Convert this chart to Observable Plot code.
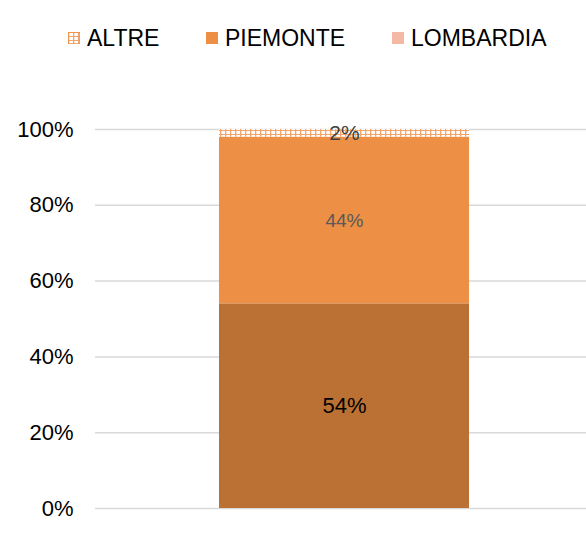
<!DOCTYPE html>
<html>
<head>
<meta charset="utf-8">
<script src="https://cdn.jsdelivr.net/npm/d3@7"></script>
<script src="https://cdn.jsdelivr.net/npm/@observablehq/plot@0.6"></script>
<style>
  html, body { margin: 0; padding: 0; background: #fff; }
  body { width: 586px; height: 535px; overflow: hidden; font-family: "Liberation Sans", Arial, sans-serif; }
  #legend { position: relative; height: 70px; }
  .item { position: absolute; top: 26px; display: flex; align-items: center; font-size: 23px; color: #000; line-height: 24px; }
  .sw { width: 12px; height: 12px; margin-right: 7px; display: inline-block; }
</style>
</head>
<body>
<div id="legend"></div>
<div id="chart"></div>
<script>
const series = ["LOMBARDIA", "PIEMONTE", "ALTRE"];
const values = [54, 44, 2];
const barColors = ["#bb7133", "#ed9045", "url(#altrePattern)"];
const labelColors = ["#000000", "#595959", "#404040"];
const labelSizes = [22, 19, 21];
const legendOrder = ["ALTRE", "PIEMONTE", "LOMBARDIA"];
const legendColors = ["pattern", "#ed9045", "#f4b9a5"];
const legendLeft = [68, 206, 392];
const yTicks = [0, 20, 40, 60, 80, 100];

const data = series.map((s, i) => ({cat: "A", series: s, value: values[i], label: values[i] + "%", i}));

const patternSvg = (id) => `<defs><pattern id="${id}" width="5" height="4" patternUnits="userSpaceOnUse">
  <rect width="5" height="4" fill="#fff"/><rect x="0" y="0" width="1.3" height="4" fill="#f2a469"/><rect x="0" y="0" width="5" height="1" fill="#f2a469"/></pattern></defs>`;

// legend
const legend = document.getElementById("legend");
legendOrder.forEach((name, i) => {
  const item = document.createElement("div");
  item.className = "item";
  item.style.left = legendLeft[i] + "px";
  let sw;
  if (legendColors[i] === "pattern") {
    sw = `<svg class="sw" width="12" height="12" viewBox="0 0 12 12">${patternSvg("legPat")}<rect width="12" height="12" fill="url(#legPat)" stroke="#ed9045" stroke-width="1.5"/></svg>`;
  } else {
    sw = `<span class="sw" style="background:${legendColors[i]}"></span>`;
  }
  item.innerHTML = sw + `<span>${name}</span>`;
  legend.appendChild(item);
});

const plot = Plot.plot({
  width: 586,
  height: 465,
  marginTop: 59,
  marginBottom: 27,
  marginLeft: 95,
  marginRight: 0,
  x: {domain: ["A"], padding: 0.325, align: 0.515, axis: null},
  y: {domain: [0, 100], label: null},
  color: {domain: series, range: barColors},
  style: {fontFamily: "Liberation Sans, Arial, sans-serif", background: "#fff"},
  marks: [
    Plot.gridY(yTicks, {stroke: "#d9d9d9", strokeOpacity: 1, strokeWidth: 1.5}),
    Plot.axisY(yTicks, {tickSize: 0, tickPadding: 22, fontSize: 22, fill: "#000", label: null, tickFormat: d => d + "%"}),
    Plot.barY(data, {x: "cat", y: "value", fill: "series", order: series}),
    Plot.text(data, Plot.stackY({x: "cat", y: "value", z: "series", order: series, text: "label",
      fill: d => labelColors[d.i], fontSize: d => labelSizes[d.i]}))
  ]
});
plot.insertAdjacentHTML("afterbegin", patternSvg("altrePattern"));
document.getElementById("chart").appendChild(plot);
</script>
</body>
</html>
